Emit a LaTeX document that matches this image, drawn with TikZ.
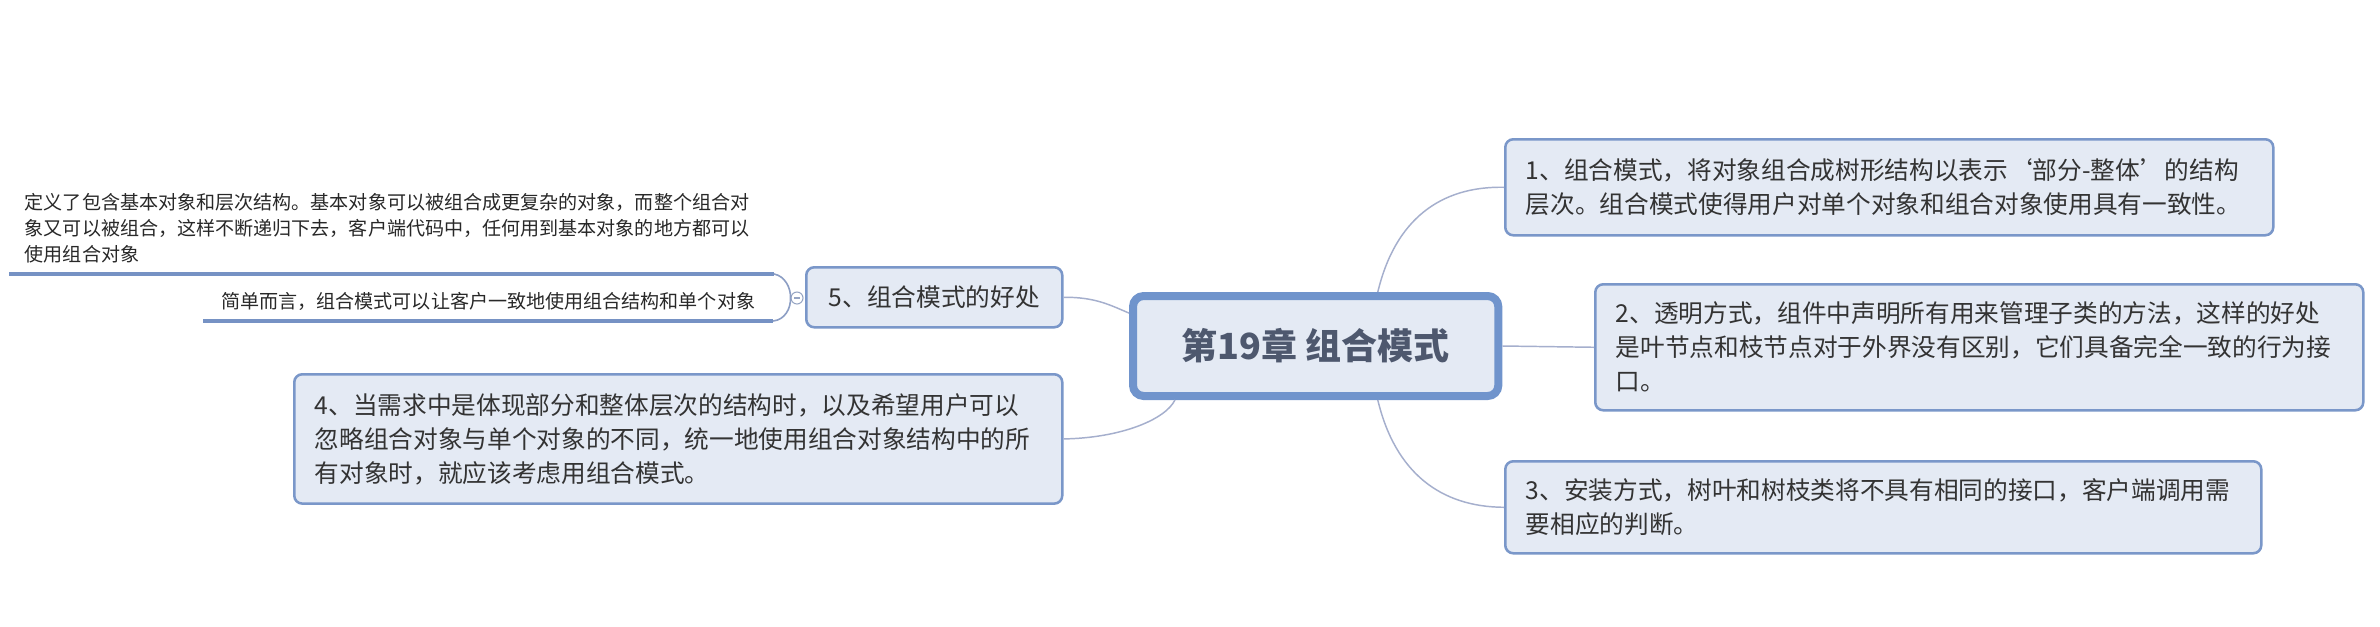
\documentclass[tikz,border=0pt]{standalone}
\usepackage{fontspec}
\setmainfont{Noto Sans CJK SC}

\tikzset{every picture/.style={line width=0.75pt}}
\tikzset{
  topic/.style={draw={rgb, 255:red, 122; green, 151; blue, 201 }, fill={rgb, 255:red, 228; green, 234; blue, 244 }, line width=1.9pt, rounded corners=6pt, anchor=north west, align=left, inner xsep=15.5pt, inner ysep=4pt, text={rgb, 255:red, 51; green, 51; blue, 51 }, font=\fontsize{18.5}{25.5}\selectfont},
  root/.style={draw={rgb, 255:red, 112; green, 148; blue, 204 }, fill={rgb, 255:red, 228; green, 234; blue, 244 }, line width=6pt, rounded corners=8pt, anchor=north west, align=center, minimum width=274pt, minimum height=75pt, text={rgb, 255:red, 78; green, 88; blue, 110 }, font=\bfseries\fontsize{27}{32}\selectfont},
  detail/.style={align=left, inner xsep=11.5pt, inner ysep=8pt, text={rgb, 255:red, 40; green, 40; blue, 40 }, font=\fontsize{14.3}{19.5}\selectfont},
  branch/.style={draw={rgb, 255:red, 165; green, 175; blue, 205 }, line width=1.1pt},
  stem/.style={draw={rgb, 255:red, 118; green, 146; blue, 196 }, line width=3pt},
  brace/.style={draw={rgb, 255:red, 140; green, 158; blue, 196 }, line width=1.2pt},
  fold/.style={circle, draw={rgb, 255:red, 150; green, 165; blue, 195 }, fill=white, line width=0.8pt, minimum size=9pt, inner sep=0pt},
  foldbar/.style={draw={rgb, 255:red, 150; green, 165; blue, 195 }, line width=0.8pt}
}

\begin{document}
\begin{tikzpicture}[x=0.75pt,y=0.75pt,yscale=-1,xscale=1]
%set diagram left start at 0, and has height of 626
\path [use as bounding box, fill=white] (0,0) rectangle (2380,626);

%Central Topic
\draw (1129,292) node [root] (root) {第19章 组合模式};

%Rounded Rect [n1]
\draw (1504,138) node [topic, text width=545pt, minimum height=72pt] (n1) {1、组合模式，将对象组合成树形结构以表示‘部分-整体’的结构\\层次。组合模式使得用户对单个对象和组合对象使用具有一致性。};
%Rounded Rect [n2]
\draw (1594,283) node [topic, text width=545pt, minimum height=94.5pt] (n2) {2、透明方式，组件中声明所有用来管理子类的方法，这样的好处\\是叶节点和枝节点对于外界没有区别，它们具备完全一致的行为接\\口。};
%Rounded Rect [n3]
\draw (1504,460) node [topic, text width=536pt, minimum height=69pt] (n3) {3、安装方式，树叶和树枝类将不具有相同的接口，客户端调用需\\要相应的判断。};
%Rounded Rect [n4]
\draw (293,373) node [topic, text width=545pt, minimum height=97pt] (n4) {4、当需求中是体现部分和整体层次的结构时，以及希望用户可以\\忽略组合对象与单个对象的不同，统一地使用组合对象结构中的所\\有对象时，就应该考虑用组合模式。};
%Rounded Rect [n5]
\draw (805,266) node [topic, align=center, inner xsep=0pt, minimum width=192pt, minimum height=45pt] (n5) {5、组合模式的好处};

% Text Node
\draw (9,274) node [detail, anchor=south west, text width=550pt] (det1) {定义了包含基本对象和层次结构。基本对象可以被组合成更复杂的对象，而整个组合对\\象又可以被组合，这样不断递归下去，客户端代码中，任何用到基本对象的地方都可以\\使用组合对象};
% Text Node
\draw (773,321) node [detail, anchor=south east, inner xsep=13pt, inner ysep=7.5pt] (det2) {简单而言，组合模式可以让客户一致地使用组合结构和单个对象};

%Straight Lines
\draw [stem] (det1.south west) -- (det1.south east) ;
\draw [stem] (det2.south west) -- (det2.south east) ;

%Circle [fold]
\draw (797,298) node [fold] (fold) {};
\draw [foldbar] ([xshift=-2.2pt]fold.center) -- ([xshift=2.2pt]fold.center) ;

%Curve Lines
\draw [brace] (det1.south east) .. controls (785,276) and (791,288) .. (fold.west) .. controls (791,308) and (785,320) .. (det2.south east) ;
%Curve Lines
\draw [branch] (n5.east) .. controls (1095,297) and (1110,305) .. (root.170) ;
%Curve Lines
\draw [branch] (n4.east) .. controls (1120,438) and (1165,420) .. (root.201) ;
%Curve Lines
\draw [branch] (root.41) .. controls (1395,220) and (1440,186) .. (n1.west) ;
%Straight Lines
\draw [branch] (root.east) -- (n2.west) ;
%Curve Lines
\draw [branch] (root.-41) .. controls (1395,472) and (1440,507) .. (n3.west) ;

\end{tikzpicture}
\end{document}
